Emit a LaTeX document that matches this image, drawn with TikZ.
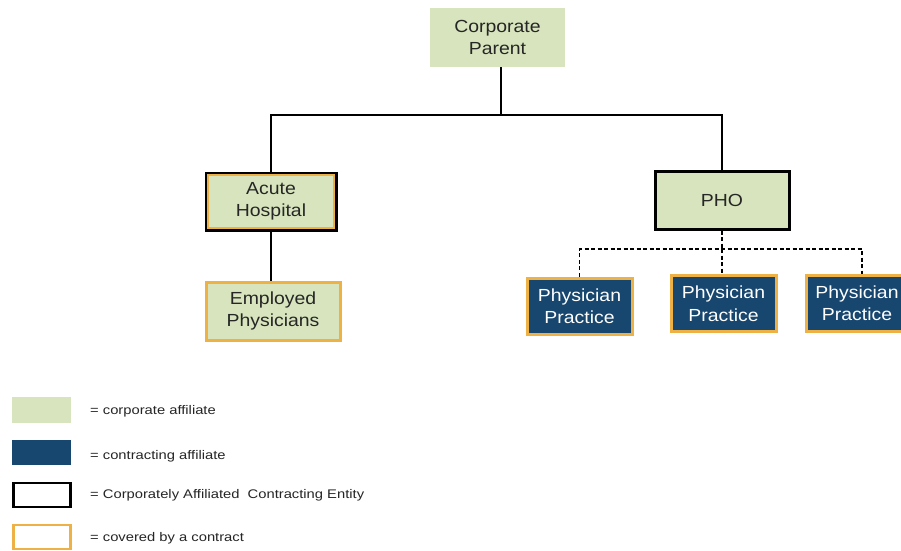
\documentclass[tikz,border=0pt]{standalone}
\usepackage{fontspec}
\setmainfont{Liberation Sans}
\newfontfamily\widesans[FakeStretch=1.18]{Liberation Sans}
\newfontfamily\midsans[FakeStretch=1.11]{Liberation Sans}
\definecolor{corpgreen}{HTML}{D7E4BD}
\definecolor{ctrblue}{HTML}{17466F}
\definecolor{ctrorange}{HTML}{EDB146}
\begin{document}
\begin{tikzpicture}[x=1pt,y=-1pt,
  base/.style={rectangle, inner sep=0pt, align=center, font=\midsans\fontsize{17.5}{22.5}\selectfont, text=black!85},
  corp/.style={base, fill=corpgreen},
  corpblack/.style={base, fill=corpgreen, draw=black, line width=3pt},
  corporange/.style={base, fill=corpgreen, draw=ctrorange, line width=3pt},
  practice/.style={base, fill=ctrblue, draw=ctrorange, line width=3pt, text=white, minimum width=105pt, minimum height=56pt},
  link/.style={draw=black, line width=1.3pt},
  dlink/.style={draw=black, line width=1.3pt, dash pattern=on 4pt off 2.5pt},
  legtext/.style={anchor=west, inner sep=0pt, font=\widesans\fontsize{12.5}{14}\selectfont, text=black!85}]
\useasboundingbox (0,0) rectangle (901,550);
\clip (0,0) rectangle (901,550);
\fill[white] (0,0) rectangle (901,550);
% nodes
\node[corp, minimum width=135pt, minimum height=59pt] (cp) at (497.5,37.5) {Corporate\\Parent};
\node[corpblack, minimum width=130pt, minimum height=57pt] (ah) at (271,201.5) {Acute\\Hospital};
\draw[ctrorange, line width=2.5pt] ([shift={(3.5pt,-3.5pt)}]ah.north west) rectangle ([shift={(-3.5pt,3.5pt)}]ah.south east);
\node[corporange, minimum width=134pt, minimum height=58pt] (ep) at (273,311) {Employed\\Physicians};
\node[corpblack, minimum width=134pt, minimum height=58pt] (pho) at (722,200) {PHO};
\node[practice] (pp1) at (579.5,306) {Physician\\Practice};
\node[practice] (pp2) at (723.5,303.5) {Physician\\Practice};
\node[practice, minimum width=102pt] (pp3) at (857,303) {Physician\\Practice};
% connectors
\coordinate (hub) at (501,115);
\draw[link] (cp.south -| hub) -- (hub);
\draw[link] (ah.north) |- (hub) -| (pho.north);
\draw[link] (ah.south) -- (ep.north -| ah.south);
\coordinate (dh) at (722,249);
\coordinate (p3top) at ([xshift=5pt]pp3.north);
\draw[dlink] (pho.south) -- (dh);
\draw[dlink] (pp1.north) |- (dh) -| (p3top);
\draw[dlink] (dh) -- (pp2.north -| dh);
% legend
\node[fill=corpgreen, minimum width=59pt, minimum height=26pt, inner sep=0pt] (l1) at (41.5,410) {};
\node[fill=ctrblue, minimum width=59pt, minimum height=25pt, inner sep=0pt] (l2) at (41.5,452.5) {};
\node[draw=black, line width=2.5pt, minimum width=57pt, minimum height=24pt, inner sep=0pt] (l3) at (42,495) {};
\node[draw=ctrorange, line width=2.5pt, minimum width=57pt, minimum height=24pt, inner sep=0pt] (l4) at (42,537) {};
\node[legtext] (t1) at (90,411) {= corporate affiliate};
\node[legtext] (t2) at (90,456) {= contracting affiliate};
\node[legtext] (t3) at (90,495) {= Corporately Affiliated\ \ Contracting Entity};
\node[legtext] (t4) at (90,538) {= covered by a contract};
\end{tikzpicture}
\end{document}
